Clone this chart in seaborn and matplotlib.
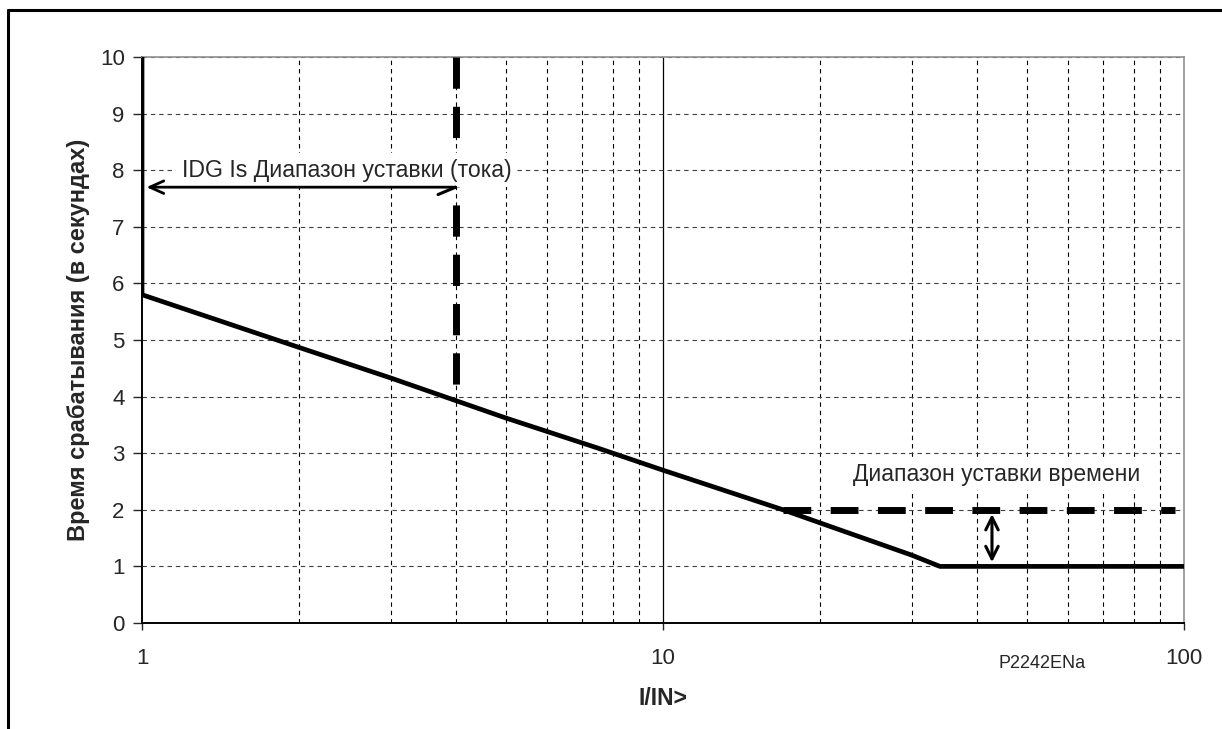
import numpy as np
import pandas as pd
import seaborn as sns
import matplotlib
matplotlib.use("Agg")
import matplotlib.pyplot as plt
from matplotlib.ticker import LogLocator, FixedLocator, NullFormatter
from matplotlib.lines import Line2D

# IDG curve (I/IN>, seconds)
curve_x = [1, 1, 2, 3, 4, 5, 7.5, 10, 17, 20, 30, 34, 100]
curve_t = [10, 5.8, 4.87, 4.33, 3.93, 3.62, 3.09, 2.7, 2.0, 1.77, 1.2, 1.0, 1.0]

# setting range markers
is_setting_x = [4, 4]
is_setting_t = [10, 3.93]
time_setting_x = [17, 96]
time_setting_t = [2, 2]

x_ticks = [1, 10, 100]
x_ticklabels = ["1", "10", "100"]
y_ticks = list(range(0, 11))

sns.set_style("white")
plt.rcParams['font.family'] = ['Liberation Sans', 'DejaVu Sans']

fig = plt.figure(figsize=(12.22, 7.29), dpi=100)
ax = fig.add_axes([142 / 1222, 1 - 623 / 729, (1184 - 142) / 1222, (623 - 57) / 729])

df = pd.DataFrame({"x": curve_x, "t": curve_t})
sns.lineplot(data=df, x="x", y="t", sort=False, estimator=None, color="black",
             linewidth=3.4, ax=ax, zorder=5)

ax.plot(is_setting_x, is_setting_t, color="black", linewidth=5, dashes=(4.5, 2.6), zorder=4)
ax.plot(time_setting_x, time_setting_t, color="black", linewidth=5, dashes=(4, 2.8), zorder=4)

ax.set_xscale("log")
ax.set_xlim(1, 100)
ax.set_ylim(0, 10)

ax.xaxis.set_major_locator(FixedLocator(x_ticks))
ax.set_xticklabels(x_ticklabels)
ax.xaxis.set_minor_locator(LogLocator(base=10, subs=np.arange(2, 10)))
ax.xaxis.set_minor_formatter(NullFormatter())
ax.set_yticks(y_ticks)

ax.grid(False)
for v in range(2, 10):
    for dec in [1, 10]:
        ax.axvline(v * dec, color="black", linewidth=0.8, dashes=(4, 3.5), zorder=1)
ax.axvline(10, color="black", linewidth=0.9, zorder=1)
for y in y_ticks[1:]:
    ax.axhline(y, color="#404040", linewidth=0.8, dashes=(4, 3.5), zorder=1)

ax.tick_params(axis="x", which="major", direction="out", length=5, width=1, pad=13,
               labelsize=16, bottom=True)
ax.tick_params(axis="x", which="minor", length=0)
ax.tick_params(axis="y", direction="out", length=6.5, width=1, pad=6, labelsize=16, left=True)

for s in ["left", "bottom"]:
    ax.spines[s].set_color("black")
    ax.spines[s].set_linewidth(1.4)
for s in ["top", "right"]:
    ax.spines[s].set_color("#909090")
    ax.spines[s].set_linewidth(1.2)

ax.set_xlabel("I/IN>", fontsize=16.5, fontweight="bold", labelpad=13)
ax.set_ylabel("Время срабатывания (в секундах)", fontsize=17, fontweight="bold", labelpad=7)

# annotations
ax.annotate("", xy=(1.02, 7.7), xytext=(4, 7.7),
            arrowprops=dict(arrowstyle="->,head_length=1.0,head_width=0.45", color="black",
                            linewidth=2.0, shrinkA=0, shrinkB=0), zorder=6)
ax.plot([4, 3.7], [7.7, 7.57], color="black", linewidth=2.2, zorder=6)
ax.text(2.47, 8.0, "IDG Is Диапазон уставки (тока)", fontsize=16.7, ha="center", va="center",
        bbox=dict(facecolor="white", edgecolor="none", pad=4), zorder=4.5)

ax.annotate("", xy=(42.8, 1.0), xytext=(42.8, 2.0),
            arrowprops=dict(arrowstyle="<->,head_length=0.9,head_width=0.45", color="black",
                            linewidth=2.2, shrinkA=3, shrinkB=3), zorder=6)
ax.text(43.6, 2.62, "Диапазон уставки времени", fontsize=16.5, ha="center", va="center",
        bbox=dict(facecolor="white", edgecolor="none", pad=3), zorder=4.5)

fig.text(1042 / 1222, 1 - 663 / 729, "P2242ENa", fontsize=13, ha="center", va="center")

# outer frame (top and left visible)
fig.add_artist(Line2D([8 / 1222, 1.0], [1 - 10 / 729, 1 - 10 / 729], color="black",
                      linewidth=2.2, transform=fig.transFigure))
fig.add_artist(Line2D([8 / 1222, 8 / 1222], [0, 1 - 10 / 729], color="black",
                      linewidth=2.2, transform=fig.transFigure))

fig.savefig("out.png", dpi=100)
